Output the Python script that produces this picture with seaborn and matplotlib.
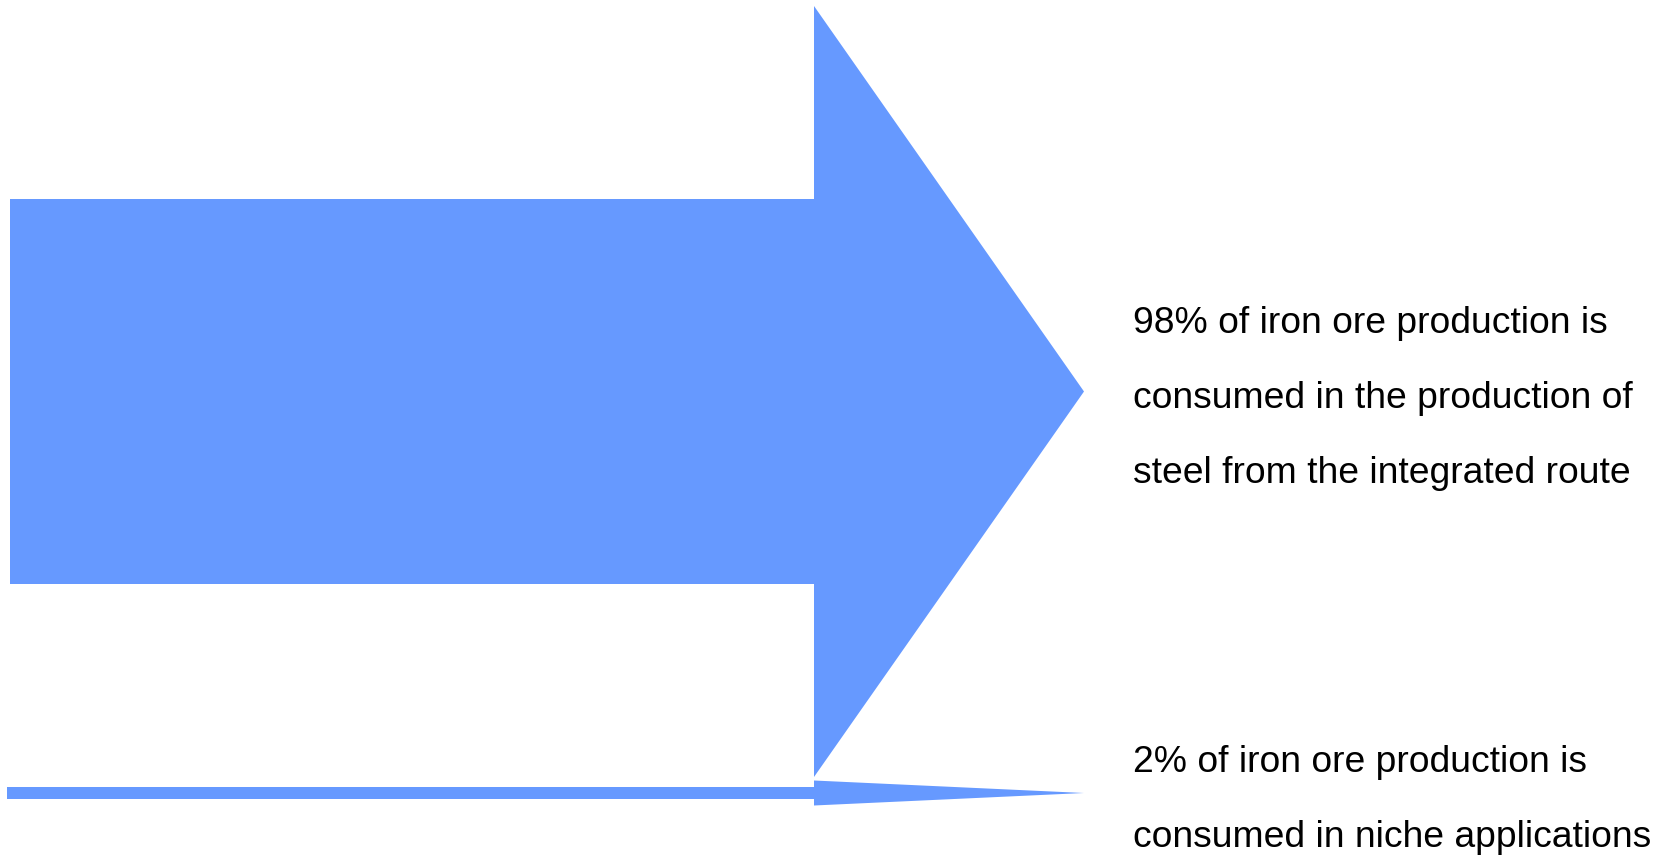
import matplotlib.pyplot as plt
import seaborn as sns

# shares of iron ore production and their descriptions
shares = [98, 2]
labels = [
    "98% of iron ore production is\nconsumed in the production of\nsteel from the integrated route",
    "2% of iron ore production is\nconsumed in niche applications",
]

# arrow styling (pixel units of the canvas)
centers = [391.5, 793]
starts = [10, 7]
shaft_widths = [385, 12]
head_widths = [771, 25]
tip_x = 1084
head_len = 270
arrow_color = "#6699ff"


def flow_arrows(ax):
    for share, lab, cy, x0, w, hw in zip(shares, labels, centers, starts, shaft_widths, head_widths):
        ax.arrow(x0, cy, tip_x - x0, 0, width=w, head_width=hw, head_length=head_len,
                 length_includes_head=True, color=arrow_color, lw=0)
        ax.text(1133, cy + 7, lab, ha="left", va="center", fontsize=26.8,
                family="Liberation Sans", linespacing=2.47, color="black")


if __name__ == '__main__':
    sns.set_theme(style="white")
    fig = plt.figure(figsize=(16.63, 8.56), dpi=100)
    ax = fig.add_axes([0, 0, 1, 1])
    ax.set_xlim(0, 1663)
    ax.set_ylim(856, 0)
    ax.axis("off")
    flow_arrows(ax)
    fig.savefig("out.png", dpi=100)
